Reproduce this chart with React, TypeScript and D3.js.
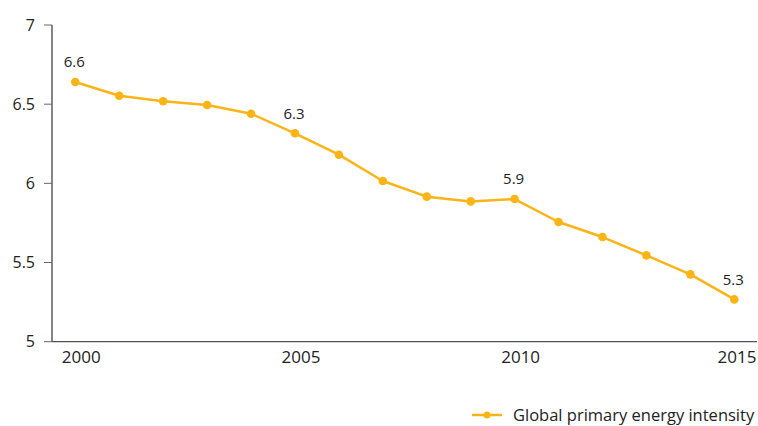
import React from "react";
import * as d3 from "d3";

const years = [2000, 2001, 2002, 2003, 2004, 2005, 2006, 2007, 2008, 2009, 2010, 2011, 2012, 2013, 2014, 2015];
const intensity = [6.64, 6.553, 6.518, 6.495, 6.44, 6.316, 6.181, 6.015, 5.916, 5.886, 5.901, 5.756, 5.661, 5.545, 5.425, 5.267];
const labelYears = [2000, 2005, 2010, 2015];
const labelTexts = ["6.6", "6.3", "5.9", "5.3"];
const yTicks = [5, 5.5, 6, 6.5, 7];
const xTickYears = [2000, 2005, 2010, 2015];
const seriesName = "Global primary energy intensity";

const W = 758, H = 426;
const ORANGE = "#FBB416";
const TEXT = "#222";
const FONT = "'Open Sans', sans-serif";

export default function App() {
  const x = d3.scaleLinear().domain([2000, 2015]).range([75.3, 734.3]);
  const y = d3.scaleLinear().domain([5, 7]).range([341.7, 25]);
  const line = d3.line<number>().x((_, i) => x(years[i])).y((d) => y(d));
  const data = intensity;
  return (
    <svg width={W} height={H} style={{ position: "fixed", left: 0, top: 0, background: "#fff" }} fontFamily={FONT}>
      {/* y axis */}
      <line x1={52} x2={52} y1={y(7)} y2={y(5)} stroke="#333" strokeWidth={1.2} />
      {yTicks.map((t) => (
        <g key={t}>
          <line x1={44} x2={52} y1={y(t)} y2={y(t)} stroke="#666" strokeWidth={1} />
          <text x={35} y={y(t)} dy="0.35em" textAnchor="end" fontSize={16} fill={TEXT}>
            {String(t)}
          </text>
        </g>
      ))}
      {/* x axis */}
      <line x1={52} x2={757} y1={y(5)} y2={y(5)} stroke="#555" strokeWidth={1.2} />
      {xTickYears.map((t) => (
        <text key={t} x={Math.min(x(t) + 6, 737)} y={357} dy="0.35em" textAnchor="middle" fontSize={17} fill={TEXT}>
          {String(t)}
        </text>
      ))}
      {/* series */}
      <path d={line(data) || ""} fill="none" stroke={ORANGE} strokeWidth={2.5} strokeLinejoin="round" />
      {data.map((d, i) => (
        <circle key={i} cx={x(years[i])} cy={y(d)} r={4.3} fill={ORANGE} />
      ))}
      {labelYears.map((yr, i) => {
        const idx = years.indexOf(yr);
        return (
          <text key={yr} x={x(yr) - 1} y={y(data[idx]) - 20} dy="0.35em" textAnchor="middle" fontSize={15} fill={TEXT}>
            {labelTexts[i]}
          </text>
        );
      })}
      {/* legend */}
      <line x1={472} x2={502} y1={415} y2={415} stroke={ORANGE} strokeWidth={2.5} />
      <circle cx={487} cy={415} r={3.5} fill={ORANGE} />
      <text x={513} y={415} dy="0.35em" fontSize={16.5} fill={TEXT}>
        {seriesName}
      </text>
    </svg>
  );
}
